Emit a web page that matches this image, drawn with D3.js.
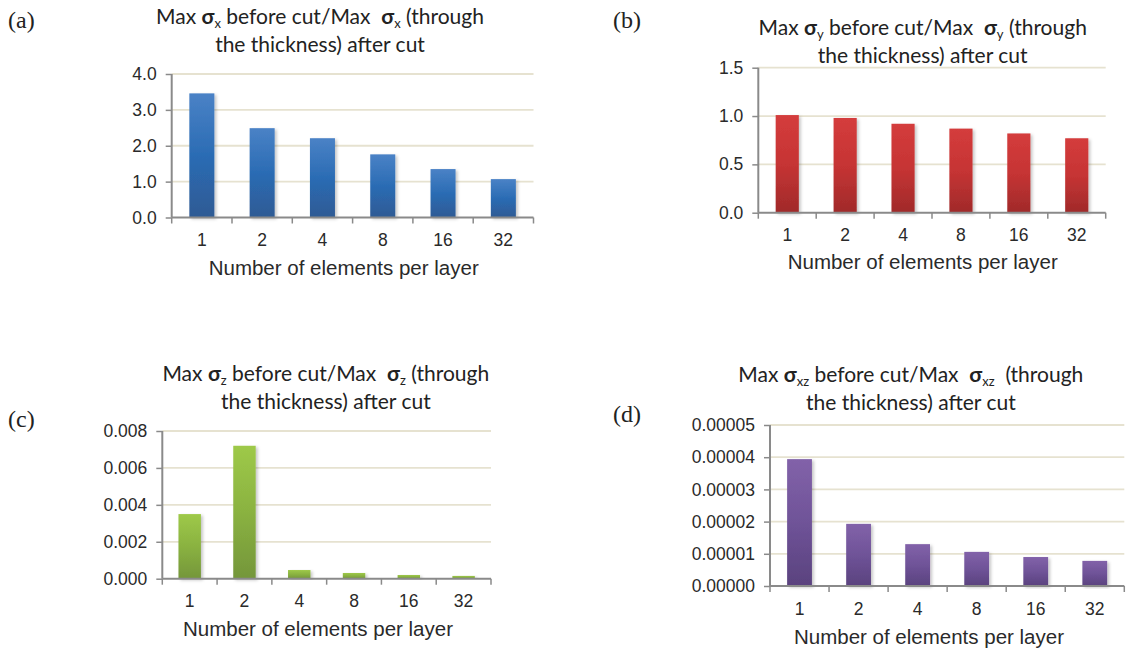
<!DOCTYPE html>
<html>
<head>
<meta charset="utf-8">
<script src="https://cdn.jsdelivr.net/npm/d3@7/dist/d3.min.js"></script>
<style>
  html, body { margin: 0; padding: 0; background: #fff; }
  svg { display: block; }
</style>
</head>
<body>
<svg id="fig" width="1132" height="653"></svg>
<script>
// Categories along the x axis (number of elements per layer)
const categories = ["1", "2", "4", "8", "16", "32"];

// Ratio of maximum stress before cut to maximum stress after cut
const sigmaX  = [3.46, 2.49, 2.21, 1.76, 1.35, 1.07];
const sigmaY  = [1.01, 0.98, 0.92, 0.87, 0.82, 0.77];
const sigmaZ  = [0.0035, 0.0072, 0.00047, 0.00031, 0.00020, 0.00015];
const sigmaXZ = [0.0000394, 0.0000193, 0.0000130, 0.0000106, 0.0000090, 0.0000078];

// Y-axis tick values for each panel
const ticksX  = [0, 1, 2, 3, 4];
const ticksY  = [0, 0.5, 1.0, 1.5];
const ticksZ  = [0, 0.002, 0.004, 0.006, 0.008];
const ticksXZ = [0, 0.00001, 0.00002, 0.00003, 0.00004, 0.00005];

const xTitle = "Number of elements per layer";

const svg = d3.select("#fig");
const defs = svg.append("defs");

defs.append("filter").attr("id", "barShadow")
  .attr("x", "-20%").attr("y", "-5%").attr("width", "150%").attr("height", "115%")
  .append("feDropShadow")
  .attr("dx", 2).attr("dy", 1.5).attr("stdDeviation", 1.6)
  .attr("flood-color", "#000").attr("flood-opacity", 0.22);

function gradient(id, stops) {
  const g = defs.append("linearGradient").attr("id", id)
    .attr("x1", 0).attr("y1", 0).attr("x2", 0).attr("y2", 1);
  stops.forEach(([o, c]) => g.append("stop").attr("offset", o).attr("stop-color", c));
  return `url(#${id})`;
}

const panels = [
  { tag: "(a)", sub: "x", values: sigmaX, ticks: ticksX, fmt: ".1f",
    fill: gradient("gBlue", [[0, "#4a82c6"], [0.5, "#2b6cb4"], [1, "#2f5a94"]]),
    left: 171.7, right: 533.5, top: 74, bottom: 217.5, pad: 0.585,
    tagPos: [8, 28], titleX: 320, titleY: 24, axisTitle: [343.7, 275] },
  { tag: "(b)", sub: "y", values: sigmaY, ticks: ticksY, fmt: ".1f",
    fill: gradient("gRed", [[0, "#d43c3c"], [0.5, "#c63434"], [1, "#a02a2a"]]),
    left: 758.3, right: 1105.7, top: 67.7, bottom: 212.7, pad: 0.6,
    tagPos: [613, 28], titleX: 922.7, titleY: 35, axisTitle: [922.7, 269] },
  { tag: "(c)", sub: "z", values: sigmaZ, ticks: ticksZ, fmt: ".3f",
    fill: gradient("gGreen", [[0, "#9ec948"], [0.5, "#8ab241"], [1, "#74963a"]]),
    left: 162.3, right: 491, top: 431, bottom: 578.7, pad: 0.59,
    tagPos: [8, 427], titleX: 325.8, titleY: 381, axisTitle: [318, 636] },
  { tag: "(d)", sub: "xz", values: sigmaXZ, ticks: ticksXZ, fmt: ".5f",
    fill: gradient("gPurple", [[0, "#8262a9"], [0.5, "#6f5398"], [1, "#5a427e"]]),
    left: 770, right: 1124.3, top: 425, bottom: 586, pad: 0.58,
    tagPos: [613, 422], titleX: 910.8, titleY: 382, axisTitle: [929, 644] }
];

const axisColor = "#8a8a8a";
const gridColor = "#e6e2d0";
const tickFont = "'Liberation Sans', Arial, sans-serif";
const titleFont = "Lato, 'Open Sans', sans-serif";
const titleSize = 21;

panels.forEach(p => {
  const g = svg.append("g");
  const tmax = p.ticks[p.ticks.length - 1];

  const x = d3.scaleBand().domain(categories).range([p.left, p.right])
    .paddingInner(p.pad).paddingOuter(p.pad / 2);
  const y = d3.scaleLinear().domain([0, tmax]).range([p.bottom, p.top]);

  // horizontal gridlines
  g.append("g").selectAll("line")
    .data(p.ticks.filter(t => t > 0))
    .join("line")
    .attr("x1", p.left).attr("x2", p.right)
    .attr("y1", d => y(d)).attr("y2", d => y(d))
    .attr("stroke", gridColor).attr("stroke-width", 1.8);

  // bars
  g.append("g").selectAll("rect")
    .data(p.values)
    .join("rect")
    .attr("x", (d, i) => x(categories[i]))
    .attr("width", x.bandwidth())
    .attr("y", d => y(d))
    .attr("height", d => y(0) - y(d))
    .attr("fill", p.fill)
    .attr("filter", "url(#barShadow)");

  // y axis
  const yAxis = d3.axisLeft(y).tickValues(p.ticks)
    .tickFormat(d3.format(p.fmt)).tickSize(6).tickPadding(9);
  const ya = g.append("g").attr("transform", `translate(${p.left},0)`).call(yAxis);
  ya.select(".domain").attr("stroke", axisColor).attr("stroke-width", 2)
    .attr("d", `M0,${p.bottom}V${p.top}`);
  ya.selectAll(".tick line").attr("stroke", axisColor).attr("stroke-width", 1.5);
  ya.selectAll(".tick text").attr("font-family", tickFont).attr("font-size", 17.5)
    .attr("fill", "#2a2a2a");

  // x axis with tick marks at band boundaries
  const xa = g.append("g").attr("transform", `translate(0,${p.bottom})`);
  xa.append("line").attr("x1", p.left).attr("x2", p.right)
    .attr("stroke", axisColor).attr("stroke-width", 2);
  const gap = (x.step() - x.bandwidth()) / 2;
  const edges = d3.range(categories.length + 1);
  const edgeX = i => i < categories.length ? x(categories[i]) - gap : p.right;
  xa.selectAll("line.edge").data(edges).join("line").attr("class", "edge")
    .attr("x1", edgeX).attr("x2", edgeX)
    .attr("y1", 0).attr("y2", 6)
    .attr("stroke", axisColor).attr("stroke-width", 1.5);
  xa.selectAll("text").data(categories).join("text")
    .attr("x", d => x(d) + x.bandwidth() / 2)
    .attr("y", 28.5)
    .attr("text-anchor", "middle")
    .attr("font-family", tickFont).attr("font-size", 17.5).attr("fill", "#2a2a2a")
    .text(d => d);

  // x axis title
  g.append("text")
    .attr("x", p.axisTitle[0]).attr("y", p.axisTitle[1])
    .attr("text-anchor", "middle")
    .attr("font-family", tickFont).attr("font-size", 20.5).attr("fill", "#2a2a2a")
    .text(xTitle);

  // panel title (two lines)
  const t1 = g.append("text")
    .attr("x", p.titleX).attr("y", p.titleY)
    .attr("text-anchor", "middle")
    .attr("font-family", titleFont).attr("font-size", titleSize).attr("fill", "#222");
  t1.append("tspan").text("Max ");
  t1.append("tspan").attr("font-weight", "bold").text("σ");
  t1.append("tspan").attr("font-size", 13).attr("dy", 4).text(p.sub);
  t1.append("tspan").attr("dy", -4).text(" before cut/Max\u00a0 ");
  t1.append("tspan").attr("font-weight", "bold").text("σ");
  t1.append("tspan").attr("font-size", 13).attr("dy", 4).text(p.sub);
  t1.append("tspan").attr("dy", -4).text(p.sub === "xz" ? "\u00a0 (through" : " (through");

  g.append("text")
    .attr("x", p.titleX).attr("y", p.titleY + 27.5)
    .attr("text-anchor", "middle")
    .attr("font-family", titleFont).attr("font-size", titleSize).attr("fill", "#222")
    .text("the thickness) after cut");

  // panel letter
  g.append("text")
    .attr("x", p.tagPos[0]).attr("y", p.tagPos[1])
    .attr("font-family", "'Liberation Serif', 'Times New Roman', serif")
    .attr("font-size", 24).attr("fill", "#222")
    .text(p.tag);
});
</script>
</body>
</html>
